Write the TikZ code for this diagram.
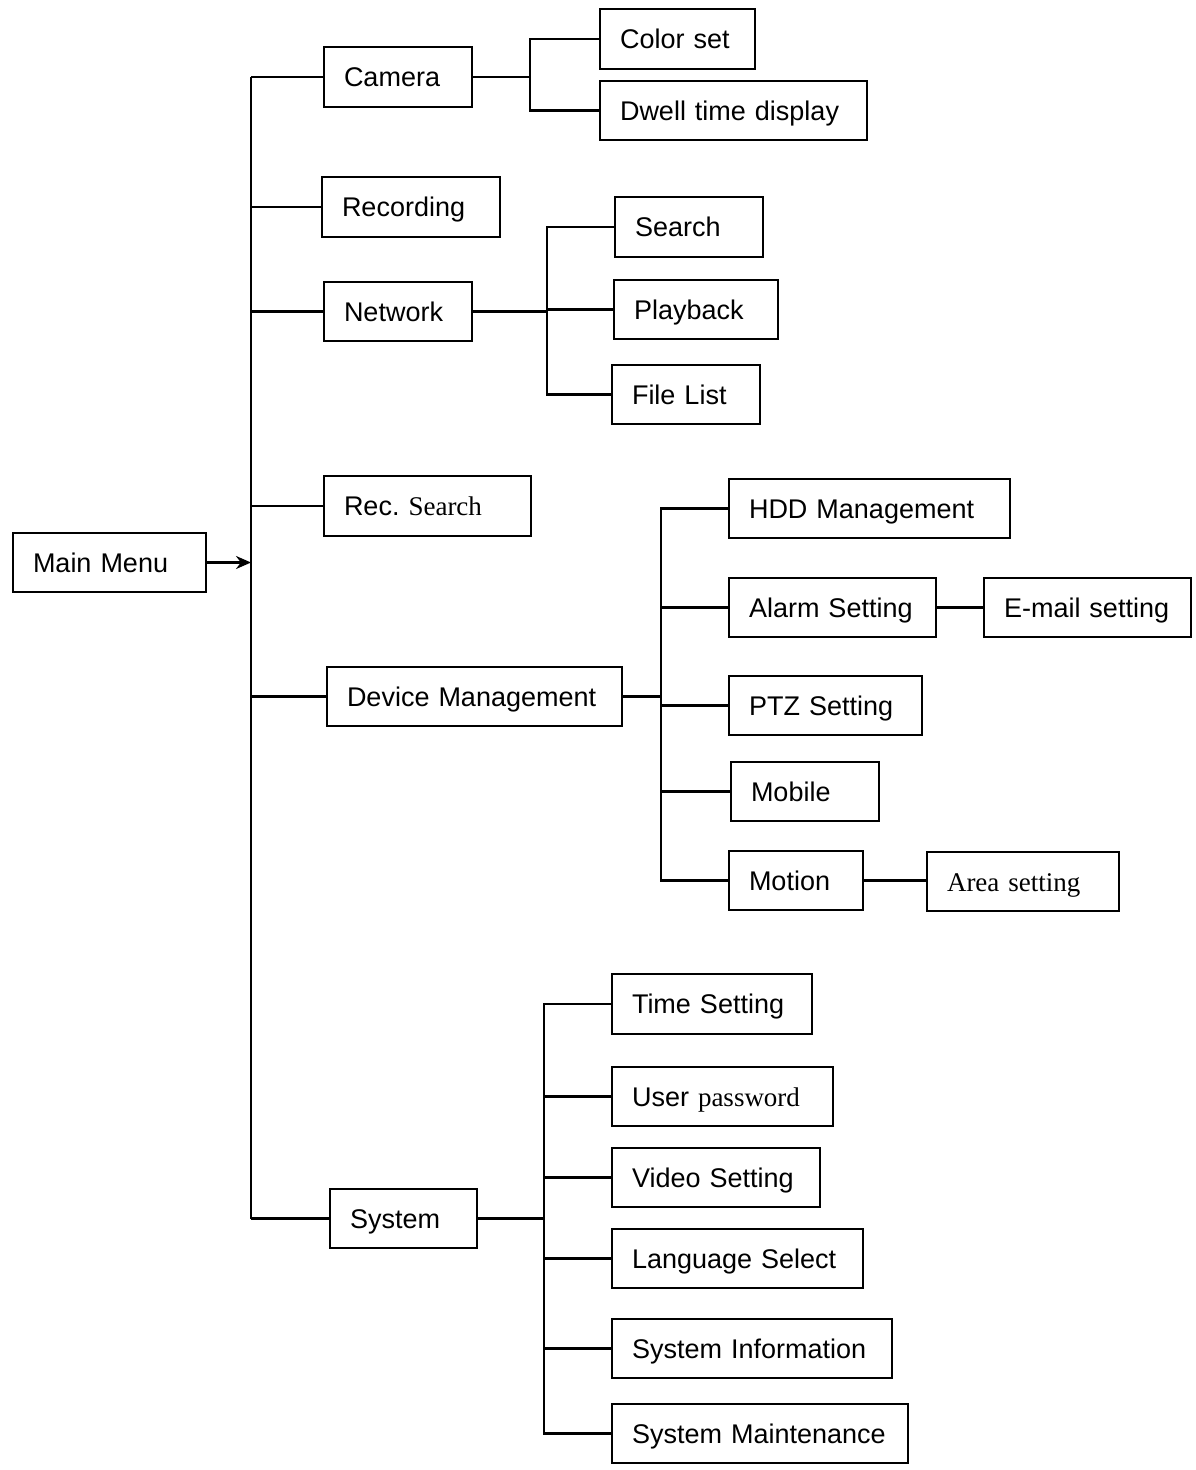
\documentclass[tikz,border=0pt]{standalone}
\usepackage{fontspec}
\setmainfont{Liberation Sans}
\newfontfamily\serifpart{Liberation Serif}
\usetikzlibrary{arrows.meta}
\frenchspacing
\tikzset{
  box/.style={draw=black, line width=2pt, rectangle, inner xsep=20pt, inner ysep=0pt,
    align=left, anchor=north west, text height=19.5pt, text depth=0pt,
    font=\fontsize{27}{32}\selectfont},
  conn/.style={draw=black, line width=2.3pt},
}
\newcommand\bx[6]{%
  \pgfmathsetmacro\bxw{#4-#2-40}%
  \pgfmathsetmacro\bxh{#5-#3}%
  \node[box, text width=\bxw pt, minimum height=\bxh pt] (#1) at (#2,#3) {#6};%
}
\begin{document}
\begin{tikzpicture}[x=1pt,y=-1pt]
\useasboundingbox (0,0) rectangle (1196,1470);
\bx{main}{12}{532}{205}{591}{Main Menu}
\bx{camera}{323}{46}{471}{106}{Camera}
\bx{recording}{321}{176}{499}{236}{Recording}
\bx{network}{323}{281}{471}{340}{Network}
\bx{recsearch}{323}{475}{530}{535}{Rec. {\serifpart Search}}
\bx{devmgmt}{326}{666}{621}{725}{Device Management}
\bx{system}{329}{1188}{476}{1247}{System}
\bx{colorset}{599}{8}{754}{68}{Color set}
\bx{dwell}{599}{80}{866}{139}{Dwell time display}
\bx{search}{614}{196}{762}{256}{Search}
\bx{playback}{613}{279}{777}{338}{Playback}
\bx{filelist}{611}{364}{759}{423}{File List}
\bx{hdd}{728}{478}{1009}{537}{HDD Management}
\bx{alarm}{728}{577}{935}{636}{Alarm Setting}
\bx{email}{983}{577}{1190}{636}{E-mail setting}
\bx{ptz}{728}{675}{921}{734}{PTZ Setting}
\bx{mobile}{730}{761}{878}{820}{Mobile}
\bx{motion}{728}{850}{862}{909}{Motion}
\bx{area}{926}{851}{1118}{910}{{\serifpart Area setting}}
\bx{time}{611}{973}{811}{1033}{Time Setting}
\bx{userpw}{611}{1066}{832}{1125}{User {\serifpart password}}
\bx{video}{611}{1147}{819}{1206}{Video Setting}
\bx{lang}{611}{1228}{862}{1287}{Language Select}
\bx{sysinfo}{611}{1318}{891}{1377}{System Information}
\bx{sysmaint}{611}{1403}{907}{1462}{System Maintenance}
% bracket coordinates
\coordinate (trunk) at (251,0);
\coordinate (cb) at (530,0);
\coordinate (nb) at (547,0);
\coordinate (db) at (661,0);
\coordinate (sb) at (544,0);
% main trunk
\draw[conn] (camera.west -| trunk) -- (system.west -| trunk);
\draw[conn,-{Stealth[length=15pt,width=13pt]}] (main.east) -- (main.east -| trunk);
\foreach \n in {camera,recording,network,recsearch,devmgmt,system}
  \draw[conn] (\n.west) -- (\n.west -| trunk);
% camera
\draw[conn] (camera.east) -- (camera.east -| cb);
\draw[conn] (colorset.west) -- (colorset.west -| cb) -- (dwell.west -| cb) -- (dwell.west);
% network
\draw[conn] (network.east) -- (network.east -| nb);
\draw[conn] (search.west) -- (search.west -| nb) -- (filelist.west -| nb) -- (filelist.west);
\draw[conn] (playback.west) -- (playback.west -| nb);
% device management
\draw[conn] (devmgmt.east) -- (devmgmt.east -| db);
\draw[conn] (hdd.west) -- (hdd.west -| db) -- (motion.west -| db) -- (motion.west);
\foreach \n in {alarm,ptz,mobile}
  \draw[conn] (\n.west) -- (\n.west -| db);
\draw[conn] (alarm.east) -- (email.west);
\draw[conn] (motion.east) -- (motion.east -| area.west);
% system
\draw[conn] (system.east) -- (system.east -| sb);
\draw[conn] (time.west) -- (time.west -| sb) -- (sysmaint.west -| sb) -- (sysmaint.west);
\foreach \n in {userpw,video,lang,sysinfo}
  \draw[conn] (\n.west) -- (\n.west -| sb);
\end{tikzpicture}
\end{document}
